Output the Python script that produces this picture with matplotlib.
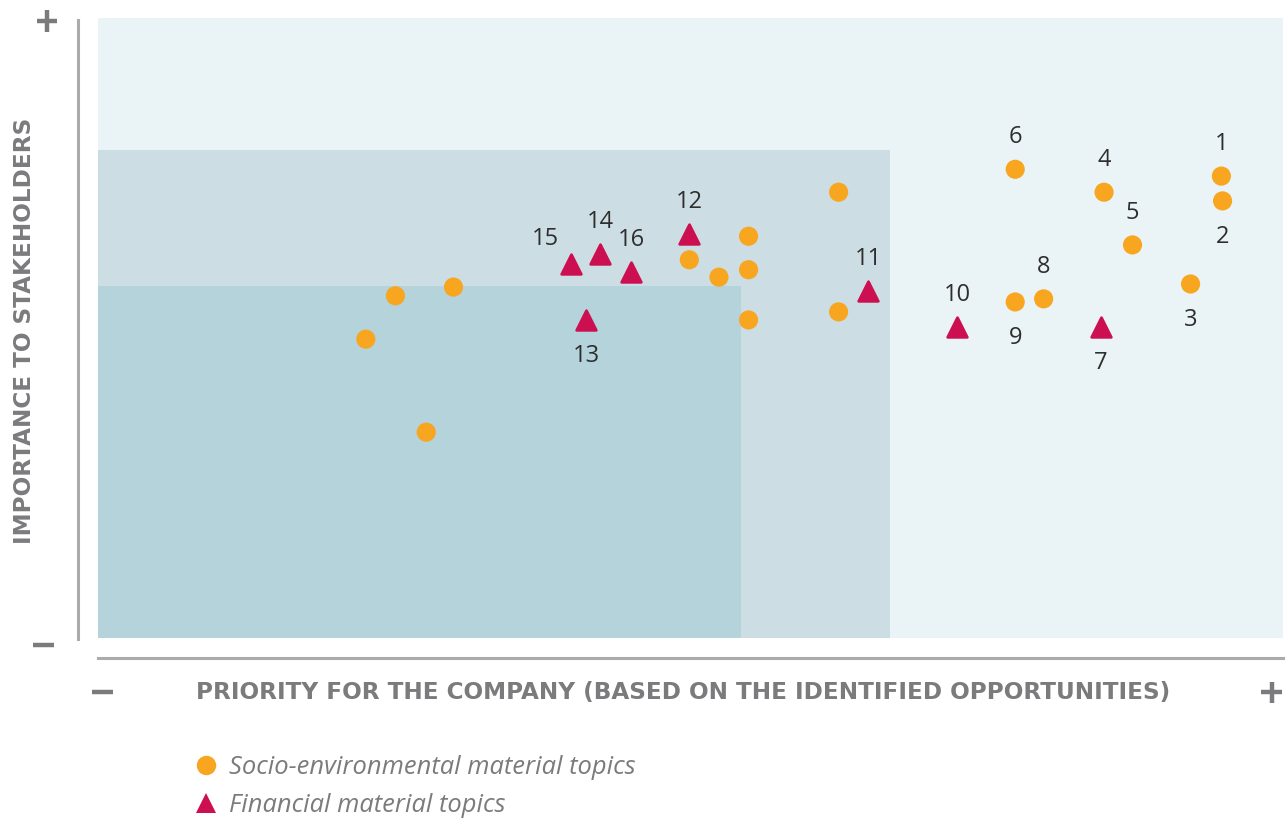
import matplotlib
matplotlib.use("Agg")
import matplotlib.pyplot as plt
from matplotlib.lines import Line2D
from matplotlib.patches import Rectangle

# ---- data (0-10 scale on both axes) ----
soc_x = [9.48, 9.49, 9.22, 8.49, 8.73, 7.74, 7.98, 7.74,
         2.26, 2.51, 3.00, 2.77, 4.99, 5.24, 5.49, 5.49, 5.49, 6.25, 6.25]
soc_y = [7.45, 7.05, 5.71, 7.19, 6.34, 7.56, 5.47, 5.42,
         4.82, 5.52, 5.66, 3.32, 6.10, 5.82, 6.48, 5.94, 5.13, 7.19, 5.26]
soc_lab = ["1", "2", "3", "4", "5", "6", "8", "9",
           "", "", "", "", "", "", "", "", "", "", ""]
soc_pos = ["above", "below", "below", "above", "above", "above", "above", "below",
           "", "", "", "", "", "", "", "", "", "", ""]

fin_x = [8.46, 7.25, 6.50, 4.99, 4.12, 4.24, 3.99, 4.50]
fin_y = [5.02, 5.02, 5.60, 6.52, 5.13, 6.19, 6.03, 5.90]
fin_lab = ["7", "10", "11", "12", "13", "14", "15", "16"]
fin_pos = ["below", "above", "above", "above", "below", "above", "aboveleft", "above"]

zones_x = [10.0, 6.68, 5.43]   # right edges of nested zones
zones_y = [10.0, 7.87, 5.68]   # top edges of nested zones
zone_colors = ["#EAF3F5", "#CCDEE4", "#B5D3DA"]

legend_labels = ["Socio-environmental material topics", "Financial material topics"]
x_title = "PRIORITY FOR THE COMPANY (BASED ON THE IDENTIFIED OPPORTUNITIES)"
y_title = "IMPORTANCE TO STAKEHOLDERS"

ORANGE = "#F8A520"
CRIMSON = "#CC0F50"
GREY = "#7B7B7D"
LINE = "#ABABAD"

W, H = 1288, 818
fig = plt.figure(figsize=(W / 100, H / 100), dpi=100)
plt.rcParams['font.family'] = ['Open Sans', 'DejaVu Sans']

ax = fig.add_axes([98 / W, (H - 638) / H, 1185 / W, 620 / H])
ax.set_xlim(0, 10)
ax.set_ylim(0, 10)
ax.axis("off")

for xr, yt, c in zip(zones_x, zones_y, zone_colors):
    ax.add_patch(Rectangle((0, 0), xr, yt, facecolor=c, edgecolor="none", zorder=0))

ax.scatter(soc_x, soc_y, s=190, marker="o", color=ORANGE, edgecolors="none", zorder=3)
ax.scatter(fin_x, fin_y, s=200, marker="^", color=CRIMSON, edgecolors=CRIMSON,
           linewidths=2.0, zorder=3)

offsets = {"above": (0, 23), "below": (0, -26), "aboveleft": (-18, 18)}


def label(xs, ys, labs, poss):
    for x, y, t, p in zip(xs, ys, labs, poss):
        if not t:
            continue
        ax.annotate(t, (x, y), xytext=offsets[p], textcoords="offset points",
                    ha="center", va="center", fontsize=17, color="#2E2E2E", zorder=4)


label(soc_x, soc_y, soc_lab, soc_pos)
label(fin_x, fin_y, fin_lab, fin_pos)

# axis lines
fig.add_artist(Line2D([78 / W, 78 / W], [1 - 20 / H, 1 - 639 / H], color=LINE, lw=2.2))
fig.add_artist(Line2D([98 / W, 1283 / W], [1 - 658 / H, 1 - 658 / H], color=LINE, lw=2.2))


# +/- signs drawn as strokes
def hbar(x0, x1, y):
    fig.add_artist(Line2D([x0 / W, x1 / W], [1 - y / H, 1 - y / H], color=GREY,
                          lw=3.2, solid_capstyle="butt"))


def vbar(x, y0, y1):
    fig.add_artist(Line2D([x / W, x / W], [1 - y0 / H, 1 - y1 / H], color=GREY,
                          lw=3.2, solid_capstyle="butt"))


hbar(37, 57, 21); vbar(47, 10, 32)          # top plus
hbar(33, 54, 645)                            # left minus
hbar(92, 113, 692)                           # bottom minus
hbar(1261, 1282, 692); vbar(1271.5, 682, 703)  # right plus

fig.text(683 / W, 1 - 693 / H, x_title, color=GREY, fontsize=16.7, fontweight="bold",
         ha="center", va="center", family="DejaVu Sans")
fig.text(25 / W, 1 - 331 / H, y_title, color=GREY, fontsize=16.7, fontweight="bold",
         ha="center", va="center", rotation=90, family="DejaVu Sans")

handles = [Line2D([], [], marker="o", ls="none", color=ORANGE, markersize=14, markeredgewidth=0),
           Line2D([], [], marker="^", ls="none", color=CRIMSON, markersize=14, markeredgewidth=0)]
fig.legend(handles, legend_labels, loc="upper left",
           bbox_to_anchor=(193 / W, 1 - 755 / H), frameon=False,
           prop={"size": 18.4, "style": "italic"}, labelcolor=GREY,
           handletextpad=0.4, labelspacing=0.5, borderaxespad=0, borderpad=0,
           handlelength=1.0)

fig.savefig("out.png", dpi=100)
